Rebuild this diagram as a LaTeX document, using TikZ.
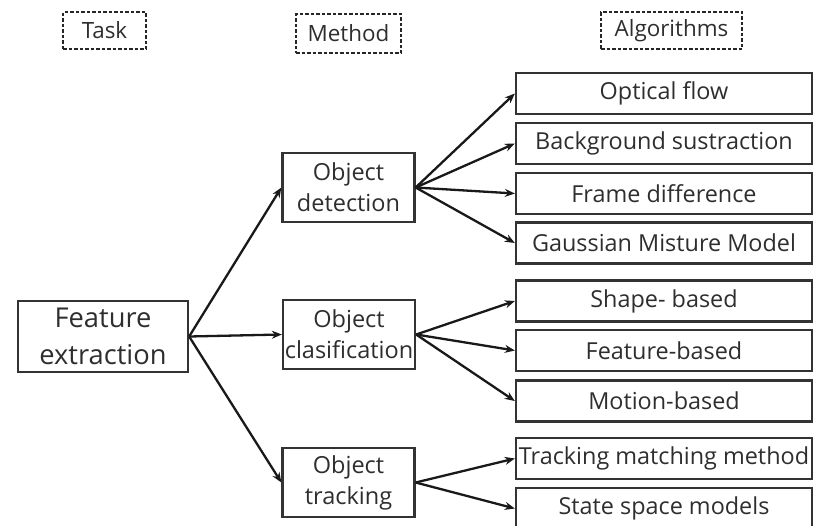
\documentclass[tikz,border=0pt]{standalone}
\usepackage{fontspec}
\setmainfont{Open Sans}
\usetikzlibrary{arrows.meta}
\begin{document}
\begin{tikzpicture}[x=1pt,y=-1pt,
  every node/.style={font=\fontsize{23.4}{28}\selectfont, text=black!82, inner xsep=0pt, align=center},
  header/.style={draw=black!85, line width=2.3pt, dash pattern=on 3.5pt off 2pt,
    font=\fontsize{22.4}{26}\selectfont},
  taskbox/.style={draw=black!80, line width=2.3pt, minimum width=170pt, minimum height=71pt,
    font=\fontsize{27.3}{37}\selectfont},
  methodbox/.style={draw=black!80, line width=2.3pt, minimum width=132pt, minimum height=69pt,
    font=\fontsize{23.5}{31}\selectfont},
  algbox/.style={draw=black!80, line width=2.3pt, minimum width=296pt, minimum height=41pt},
  link/.style={line width=2.3pt, black!90, -{Stealth[length=10pt,width=8pt]}}
]
\useasboundingbox (0,0) rectangle (813,525);

% column headers
\node[header, minimum width=83pt, minimum height=37pt] (htask) at (104.5,30.5) {Task};
\node[header, minimum width=105pt, minimum height=39pt] (hmethod) at (348.5,33.5) {Method};
\node[header, minimum width=141pt, minimum height=37pt] (halg) at (671.5,30.5) {Algorithms};

% task
\node[taskbox] (fe) at (103,336.5) {Feature\\extraction};

% methods
\node[methodbox] (od) at (348.5,187.5) {Object\\detection};
\node[methodbox] (oc) at (349,334.5) {Object\\clasification};
\node[methodbox] (ot) at (348.5,482.5) {Object\\tracking};

% algorithms
\node[algbox] (a1) at (664,93.5) {Optical flow};
\node[algbox] (a2) at (664,143.5) {Background sustraction};
\node[algbox] (a3) at (664,193.5) {Frame difference};
\node[algbox] (a4) at (664,243) {Gaussian Misture Model};
\node[algbox] (a5) at (664,301) {Shape- based};
\node[algbox] (a6) at (664,350.5) {Feature-based};
\node[algbox] (a7) at (664,401) {Motion-based};
\node[algbox] (a8) at (664,458.5) {Tracking matching method};
\node[algbox] (a9) at (664,508.5) {State space models};

% task to methods
\foreach \m in {od,oc,ot} \draw[link] (fe.east) -- (\m.west);
% methods to algorithms
\foreach \a in {a1,a2,a3,a4} \draw[link] (od.east) -- (\a.west);
\foreach \a in {a5,a6,a7} \draw[link] (oc.east) -- (\a.west);
\foreach \a in {a8,a9} \draw[link] (ot.east) -- (\a.west);
\end{tikzpicture}
\end{document}
